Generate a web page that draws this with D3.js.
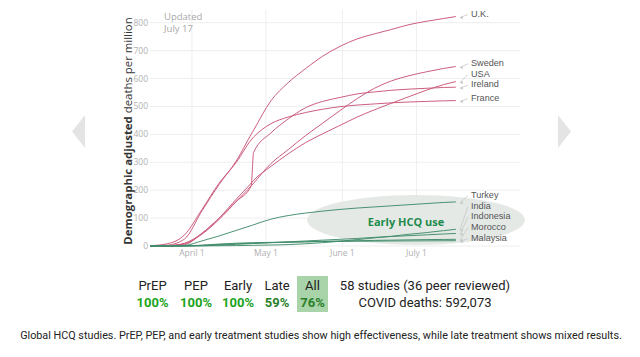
<!DOCTYPE html>
<html><head><meta charset="utf-8">
<script src="https://cdn.jsdelivr.net/npm/d3@7"></script>
<style>
body{margin:0;background:#fff;}
svg{display:block;}
</style></head>
<body><svg id="c" width="640" height="357"></svg>
<script>
const dates = ["2020-03-15","2020-03-22","2020-03-29","2020-04-05","2020-04-12","2020-04-19","2020-04-25","2020-04-26","2020-05-03","2020-05-10","2020-05-17","2020-05-24","2020-05-31","2020-06-07","2020-06-14","2020-06-21","2020-06-28","2020-07-05","2020-07-12","2020-07-17"];
const countries = ["U.K.","Sweden","USA","Ireland","France","Turkey","India","Indonesia","Morocco","Malaysia"];
const earlyHCQ = ["Turkey","India","Indonesia","Morocco","Malaysia"];
const ukValues      = [0,3,25,125,220,305,400,415,520,585,635,680,715,742,760,776,793,805,815,822];
const swedenValues  = [0,1,8,42,95,160,215,225,295,345,395,440,485,528,565,592,610,624,636,643];
const usaValues     = [0,1,5,45,100,168,225,235,285,330,370,402,432,462,488,512,535,558,578,589];
const irelandValues = [0,1,10,45,100,160,215,335,405,455,495,518,532,545,552,558,562,565,568,569];
const franceValues  = [1,8,40,130,225,300,380,390,438,462,478,490,499,505,509,513,516,518,520,521];
const turkeyValues  = [0,0,2,18,36,56,73,76,96,109,118,125,131,136,140,144,148,152,156,158];
const indiaValues   = [0,0,0,0.5,1,1.5,2.3,2.5,3.5,5,8,12,17,23,29,35,42,48,55,60];
const indonesiaValues=[0,0,0,1,3,6,8.5,9,12,15,18,21,24,27,31,34,37,40,43,45];
const moroccoValues = [0,0,0.5,2,5,8,9.8,10,12,13,15,17,18,19,20,21,22,23,23.5,24];
const malaysiaValues= [0,0,0.5,3,7,10,11.8,12,13,14,15,16,16.5,17,17.5,18,18.2,18.5,18.8,19];
const yTicks = [0,100,200,300,400,500,600,700,800];
const xTicks = ["2020-04-01","2020-05-01","2020-06-01","2020-07-01"];
const xTickLabels = ["April 1","May 1","June 1","July 1"];
const statLabels = ["PrEP","PEP","Early","Late","All"];
const statValues = ["100%","100%","100%","59%","76%"];
const studiesText = "58 studies (36 peer reviewed)";
const deathsText = "COVID deaths: 592,073";
const updatedText = ["Updated","July 17"];
const captionText = "Global HCQ studies. PrEP, PEP, and early treatment studies show high effectiveness, while late treatment shows mixed results.";

const seriesValues = [ukValues,swedenValues,usaValues,irelandValues,franceValues,turkeyValues,indiaValues,indonesiaValues,moroccoValues,malaysiaValues];
const parse = d3.timeParse("%Y-%m-%d");
const series = countries.map((c,i)=>({name:c, early: earlyHCQ.includes(c), pts: dates.map((d,j)=>({date:parse(d), v:seriesValues[i][j]}))}));

const svg = d3.select("#c");
const x = d3.scaleTime().domain([parse("2020-03-15"), parse("2020-08-12")]).range([150, 520]);
const y = d3.scaleLinear().domain([0,800]).range([246, 22.7]);

const pink = "#c95577", green = "#408c6a";
const fontUI = "'Open Sans', 'Noto Sans', sans-serif";

// nav arrows
svg.append("path").attr("d","M85,115 L72,131.5 L85,148 Z").attr("fill","#e4e4e4");
svg.append("path").attr("d","M558,115 L571,131.5 L558,148 Z").attr("fill","#e4e4e4");

// grid
const g = svg.append("g");
g.selectAll(".hg").data(yTicks).join("line")
  .attr("x1",150).attr("x2",520).attr("y1",d=>y(d)).attr("y2",d=>y(d))
  .attr("stroke","#eeeeee").attr("stroke-width",1);
g.selectAll(".vg").data(xTicks).join("line")
  .attr("x1",d=>x(parse(d))).attr("x2",d=>x(parse(d))).attr("y1",10).attr("y2",246)
  .attr("stroke","#eeeeee").attr("stroke-width",1);

// y tick labels
g.selectAll(".yt").data(yTicks).join("text")
  .attr("x",148).attr("y",d=>y(d)).attr("dy","0.35em").attr("text-anchor","end")
  .attr("font-family",fontUI).attr("font-size",8.5).attr("fill","#b0b0b0").text(d=>d);
// x tick labels
g.selectAll(".xt").data(xTicks).join("text")
  .attr("x",d=>x(parse(d))).attr("y",256).attr("text-anchor","middle")
  .attr("font-family",fontUI).attr("font-size",8.5).attr("fill","#b0b0b0").text((d,i)=>xTickLabels[i]);

// updated
g.selectAll(".up").data(updatedText).join("text")
  .attr("x",164).attr("y",(d,i)=>20+i*12).attr("font-family",fontUI).attr("font-size",9.5)
  .attr("fill","#a8a8a8").text(d=>d);

// axis title
const at = svg.append("text").attr("transform","translate(132,131) rotate(-90)")
  .attr("text-anchor","middle").attr("font-family",fontUI).attr("font-size",11.4).attr("fill","#333");
at.append("tspan").attr("font-weight","bold").text("Demographic adjusted");
at.append("tspan").text(" deaths per million");

// ellipse
svg.append("ellipse").attr("cx",416).attr("cy",220).attr("rx",109).attr("ry",25).attr("fill","#e4e9e6");
svg.append("text").attr("x",406).attr("y",226).attr("text-anchor","middle")
  .attr("font-family",fontUI).attr("font-weight","bold").attr("font-size",11).attr("fill","#1e8a4c").text("Early HCQ use");

// lines
const line = d3.line().x(d=>x(d.date)).y(d=>y(d.v)).curve(d3.curveMonotoneX);
svg.selectAll(".ln").data(series).join("path")
  .attr("d",d=>line(d.pts)).attr("fill","none")
  .attr("stroke",d=>d.early?green:pink).attr("stroke-width",0.95);

// labels with collision avoidance
function layout(group){
  const arr = group.map(s=>({s, ey:y(s.pts[s.pts.length-1].v), ex:x(s.pts[s.pts.length-1].date)}))
    .sort((a,b)=>b.ey-a.ey);
  let prev = Infinity;
  arr.forEach(a=>{ a.ly = Math.min(a.ey-3, prev-10.7); prev = a.ly; });
  return arr;
}
const labs = layout(series.filter(s=>!s.early)).concat(layout(series.filter(s=>s.early)));
const lg = svg.append("g");
lg.selectAll("line").data(labs).join("line")
  .attr("x1",d=>d.ex+12).attr("y1",d=>d.ly+1).attr("x2",d=>d.ex+4).attr("y2",d=>d.ey+1)
  .attr("stroke","#c8c8c8").attr("stroke-width",0.8);
lg.selectAll("path").data(labs).join("path")
  .attr("d",d=>{const x0=d.ex+4,y0=d.ey+1;return `M${x0},${y0} l3,-1.6 l0,3.2 Z`;})
  .attr("fill","#c8c8c8");
lg.selectAll("text").data(labs).join("text")
  .attr("x",471).attr("y",d=>d.ly).attr("dy","0.35em")
  .attr("font-family","'Liberation Sans', Arial, sans-serif").attr("font-size",9.1).attr("fill","#555").text(d=>d.s.name);

// stats
const statX = [152.5,196,238,277,312.5];
const sg = svg.append("g").attr("font-family","Roboto, sans-serif");
sg.append("rect").attr("x",297).attr("y",276).attr("width",31).attr("height",36).attr("fill","#a9d3a9");
sg.selectAll(".sl").data(statLabels).join("text")
  .attr("x",(d,i)=>statX[i]).attr("y",290).attr("text-anchor","middle").attr("font-size",13).attr("fill","#222").text(d=>d);
sg.selectAll(".sv").data(statValues).join("text")
  .attr("x",(d,i)=>statX[i]).attr("y",307).attr("text-anchor","middle").attr("font-size",13).attr("font-weight","bold")
  .attr("fill",(d,i)=>i<3?"#1ca31c":"#2a7f2a").text(d=>d);
sg.append("text").attr("x",425).attr("y",290).attr("text-anchor","middle").attr("font-size",13).attr("fill","#222").text(studiesText);
sg.append("text").attr("x",425).attr("y",307).attr("text-anchor","middle").attr("font-size",13).attr("fill","#222").text(deathsText);

svg.append("text").attr("x",321).attr("y",339).attr("text-anchor","middle")
  .attr("font-family","Roboto, sans-serif").attr("font-size",10.8).attr("fill","#222").text(captionText);
</script></body></html>
